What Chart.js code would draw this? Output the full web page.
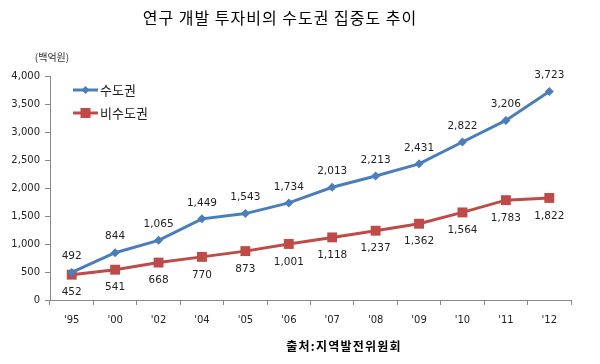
<!DOCTYPE html>
<html>
<head>
<meta charset="utf-8">
<script src="https://cdn.jsdelivr.net/npm/chart.js@4"></script>
<style>
  html, body { margin: 0; padding: 0; background: #fff; }
  #wrap { width: 600px; height: 364px; position: relative; }
</style>
</head>
<body>
<div id="wrap"><canvas id="chart" width="600" height="364"></canvas></div>
<script>
// data
const years = ["'95", "'00", "'02", "'04", "'05", "'06", "'07", "'08", "'09", "'10", "'11", "'12"];
const capital = [492, 844, 1065, 1449, 1543, 1734, 2013, 2213, 2431, 2822, 3206, 3723];
const nonCapital = [452, 541, 668, 770, 873, 1001, 1118, 1237, 1362, 1564, 1783, 1822];
const seriesNames = ["수도권", "비수도권"];
const yTicks = [0, 500, 1000, 1500, 2000, 2500, 3000, 3500, 4000];

const BLUE = "#4a7ebb";
const RED = "#be4b48";
const KFONT = "'Noto Sans CJK KR', 'Noto Sans', sans-serif";
const NFONT = "'DejaVu Sans', 'Noto Sans', sans-serif";

// titles, unit, source, value labels and the small legend inside the plot
const extras = {
  id: "extras",
  afterDatasetsDraw(chart) {
    const ctx = chart.ctx;
    ctx.save();
    ctx.fillStyle = "#000";
    ctx.textAlign = "center";
    ctx.textBaseline = "middle";
    ctx.font = "16px " + KFONT;
    ctx.letterSpacing = "1px";
    ctx.fillText("연구 개발 투자비의 수도권 집중도 추이", 280, 18);

    ctx.font = "bold 12px " + KFONT;
    ctx.letterSpacing = "1.2px";
    ctx.fillText("출처:지역발전위원회", 344, 346);
    ctx.letterSpacing = "0px";

    ctx.font = "10px " + KFONT;
    ctx.fillStyle = "#333";
    ctx.fillText("(백억원)", 52, 57);

    // value labels
    ctx.font = "10.5px " + NFONT;
    ctx.fillStyle = "#222";
    chart.data.datasets.forEach((ds, i) => {
      const meta = chart.getDatasetMeta(i);
      meta.data.forEach((pt, j) => {
        const dy = i === 0 ? -16 : 18;
        ctx.fillText(ds.data[j].toLocaleString("en-US"), pt.x, pt.y + dy);
      });
    });

    // legend
    ctx.font = "13px " + KFONT;
    ctx.textAlign = "left";
    const items = [
      { color: BLUE, y: 90, shape: "diamond", name: seriesNames[0] },
      { color: RED, y: 113, shape: "square", name: seriesNames[1] }
    ];
    items.forEach(it => {
      ctx.strokeStyle = it.color;
      ctx.lineWidth = 3;
      ctx.beginPath();
      ctx.moveTo(73, it.y);
      ctx.lineTo(98, it.y);
      ctx.stroke();
      ctx.fillStyle = it.color;
      if (it.shape === "diamond") {
        ctx.beginPath();
        ctx.moveTo(85.5, it.y - 4);
        ctx.lineTo(89.5, it.y);
        ctx.lineTo(85.5, it.y + 4);
        ctx.lineTo(81.5, it.y);
        ctx.closePath();
        ctx.fill();
      } else {
        ctx.fillRect(80.5, it.y - 5, 10, 10);
      }
      ctx.fillStyle = "#222";
      ctx.fillText(it.name, 100, it.y);
    });
    ctx.restore();
  }
};

new Chart(document.getElementById("chart"), {
  type: "line",
  data: {
    labels: years,
    datasets: [
      {
        label: seriesNames[0],
        data: capital,
        borderColor: BLUE,
        backgroundColor: BLUE,
        borderWidth: 3,
        pointStyle: "rectRot",
        pointRadius: 4.5,
        pointBorderWidth: 0,
        tension: 0
      },
      {
        label: seriesNames[1],
        data: nonCapital,
        borderColor: RED,
        backgroundColor: RED,
        borderWidth: 3,
        pointStyle: "rect",
        pointRadius: 7,
        pointBorderWidth: 0,
        tension: 0
      }
    ]
  },
  options: {
    responsive: false,
    animation: false,
    events: [],
    layout: { padding: { top: 76, right: 29, left: 0, bottom: 0 } },
    plugins: {
      legend: { display: false },
      tooltip: { enabled: false },
      title: { display: false }
    },
    scales: {
      x: {
        offset: true,
        grid: { offset: true, drawOnChartArea: false, tickLength: 5, color: "#888" },
        border: { color: "#888", width: 1 },
        ticks: { color: "#222", font: { family: NFONT, size: 10 }, padding: 9, maxRotation: 0 },
        afterFit(s) { s.height = 64; }
      },
      y: {
        min: 0,
        max: 4000,
        afterBuildTicks(s) { s.ticks = yTicks.map(v => ({ value: v })); },
        grid: { drawOnChartArea: false, tickLength: 5, color: "#888" },
        border: { color: "#888", width: 1 },
        ticks: {
          color: "#222",
          font: { family: NFONT, size: 10 },
          padding: 5,
          callback: v => v.toLocaleString("en-US")
        },
        afterFit(s) { s.width = 50; }
      }
    }
  },
  plugins: [extras]
});
</script>
</body>
</html>
